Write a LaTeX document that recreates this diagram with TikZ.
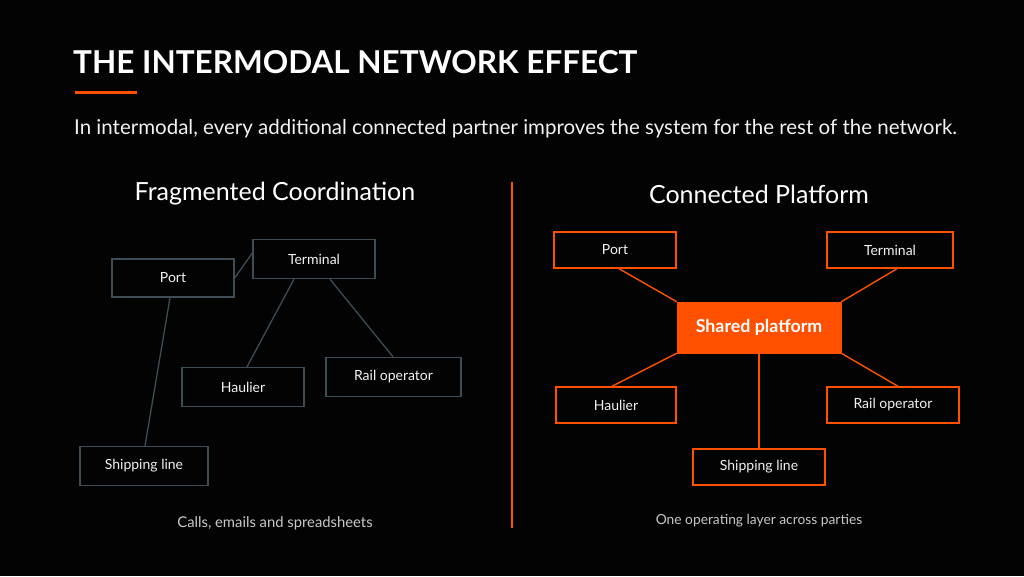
\documentclass[tikz,border=0pt]{standalone}
\usepackage{fontspec}
\setmainfont{Lato}
\definecolor{bg}{HTML}{030303}
\definecolor{orng}{HTML}{FF5000}
\definecolor{gline}{HTML}{3E4C55}
\definecolor{txt}{HTML}{F2F2F2}
\definecolor{cap}{HTML}{C8C8C8}
\newcommand{\fs}[1]{\fontsize{#1}{#1}\selectfont}
\tikzset{
  gbox/.style={draw=gline, line width=1.4pt, text=txt, font=\fs{14}, inner sep=0pt},
  obox/.style={draw=orng, line width=1.4pt, text=txt, font=\fs{14}, inner sep=0pt},
  gcon/.style={draw=gline, line width=1.3pt},
  ocon/.style={draw=orng, line width=1.4pt},
}
\begin{document}
\begin{tikzpicture}[x=1pt,y=-1pt]
\fill[bg] (0,0) rectangle (1024,576);
\useasboundingbox (0,0) rectangle (1024,576);
% title
\node[anchor=west, text=white, font=\fs{31.5}\bfseries, inner sep=0pt] (title) at (73,62) {THE INTERMODAL NETWORK EFFECT};
\coordinate (ulA) at (75,92);
\coordinate (ulB) at (137,92);
\draw[orng, line width=3pt] (ulA) -- (ulB);
\node[anchor=west, text=txt, font=\fs{20.5}, inner sep=0pt] (sub) at (74,129) {In intermodal, every additional connected partner improves the system for the rest of the network.};
% headings
\node[text=white, font=\fs{25}, inner sep=0pt] (h1) at (275,194) {Fragmented Coordination};
\node[text=white, font=\fs{25}, inner sep=0pt] (h2) at (759,194) {Connected Platform};
% divider
\coordinate (dA) at (512,182);
\coordinate (dB) at (512,528);
\draw[orng, line width=2pt] (dA) -- (dB);
% left
\node[gbox, minimum width=122pt, minimum height=38pt] (lport) at (173,278) {Port};
\node[gbox, minimum width=122pt, minimum height=39pt] (lterm) at (314,259) {Terminal};
\node[gbox, minimum width=122pt, minimum height=39pt] (lhaul) at (243,387) {Haulier};
\node[gbox, minimum width=135pt, minimum height=39pt] (lrail) at (393.5,377) {Rail operator};
\node[gbox, minimum width=128pt, minimum height=39pt] (lship) at (144,466) {Shipping line};
\draw[gcon] ([yshift=0pt]lport.east) -- ([yshift=6pt]lterm.west);
\draw[gcon] ([xshift=-3pt]lport.south) -- ([xshift=1pt]lship.north);
\draw[gcon] ([xshift=-20pt]lterm.south) -- ([xshift=4pt]lhaul.north);
\draw[gcon] ([xshift=16pt]lterm.south) -- ([xshift=-0.5pt]lrail.north);
\node[text=cap, font=\fs{14.8}, inner sep=0pt] (c1) at (275,523) {Calls, emails and spreadsheets};
% right
\node[obox, minimum width=122pt, minimum height=36pt] (rport) at (615,250) {Port};
\node[obox, minimum width=126pt, minimum height=36pt] (rterm) at (890,250) {Terminal};
\node[fill=orng, draw=orng, text=white, font=\fs{17.8}\bfseries, minimum width=164pt, minimum height=51pt, inner sep=0pt] (plat) at (759,327.5) {Shared platform};
\node[obox, minimum width=120pt, minimum height=36pt] (rhaul) at (616,405) {Haulier};
\node[obox, minimum width=132pt, minimum height=36pt] (rrail) at (893,405) {Rail operator};
\node[obox, minimum width=132pt, minimum height=36pt] (rship) at (759,467) {Shipping line};
\draw[ocon] ([xshift=4pt]rport.south) -- (plat.north west);
\draw[ocon] ([xshift=7pt]rterm.south) -- (plat.north east);
\draw[ocon] (plat.south west) -- ([xshift=-4pt]rhaul.north);
\draw[ocon] (plat.south east) -- ([xshift=5pt]rrail.north);
\draw[ocon] (plat.south) -- (rship.north);
\node[text=cap, font=\fs{13.8}, inner sep=0pt] (c2) at (759,521) {One operating layer across parties};
\end{tikzpicture}
\end{document}
